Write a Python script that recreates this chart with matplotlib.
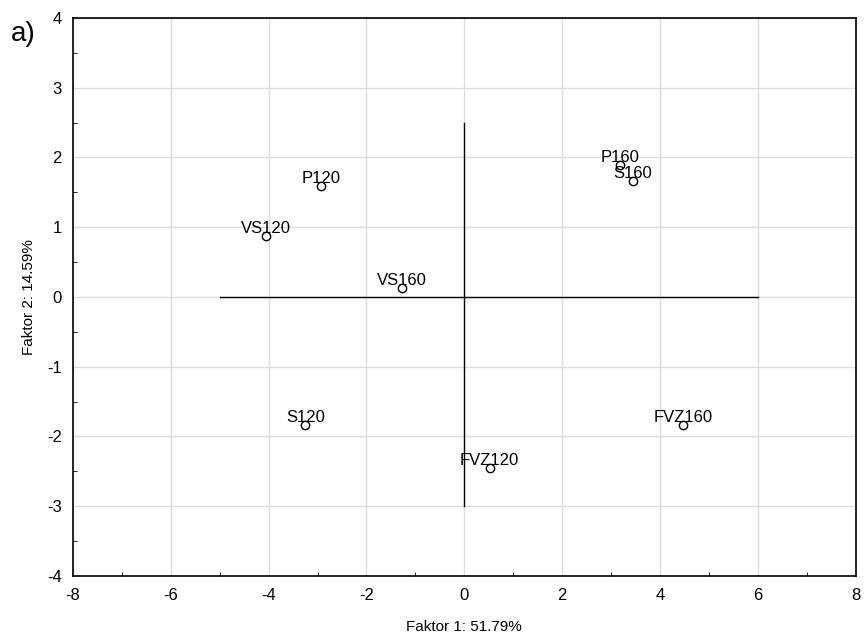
import matplotlib
matplotlib.use("Agg")
import matplotlib.pyplot as plt
from matplotlib.ticker import MultipleLocator

# scores on the first two factors
labels = ['P120', 'VS120', 'VS160', 'S120', 'FVZ120', 'FVZ160', 'P160', 'S160']
f1 = [-2.92, -4.06, -1.27, -3.25, 0.52, 4.48, 3.18, 3.44]
f2 = [1.59, 0.88, 0.13, -1.84, -2.45, -1.83, 1.89, 1.66]

plt.rcParams['font.family'] = ['Liberation Sans', 'DejaVu Sans']
plt.rcParams['axes.unicode_minus'] = False

fig = plt.figure(figsize=(8.67, 6.37), dpi=100)
ax = fig.add_axes([0.0842, 0.0958, 0.9026, 0.876])

ax.set_xlim(-8, 8)
ax.set_ylim(-4, 4)
ax.xaxis.set_major_locator(MultipleLocator(2))
ax.xaxis.set_minor_locator(MultipleLocator(1))
ax.yaxis.set_major_locator(MultipleLocator(1))
ax.yaxis.set_minor_locator(MultipleLocator(0.5))
ax.grid(True, which='major', color='#dcdcdc', linewidth=1)
ax.set_axisbelow(True)
ax.tick_params(which='major', length=0, labelsize=12)
ax.tick_params(axis='x', which='major', pad=9)
ax.tick_params(axis='y', which='major', pad=8)
ax.tick_params(which='minor', direction='in', length=3, color='black')
for s in ax.spines.values():
    s.set_linewidth(1.2)

# axis cross
ax.plot([-5, 6], [0, 0], color='black', linewidth=1)
ax.plot([0, 0], [-3, 2.5], color='black', linewidth=1)

ax.plot(f1, f2, 'o', markerfacecolor='white', markeredgecolor='black',
        markersize=6, markeredgewidth=1, zorder=3)
for lab, x, y in zip(labels, f1, f2):
    ax.annotate(lab, (x, y), xytext=(0, 0), textcoords='offset points',
                ha='center', va='bottom', fontsize=12, zorder=4)

ax.set_xlabel('Faktor 1: 51.79%', fontsize=11, labelpad=12)
ax.set_ylabel('Faktor 2: 14.59%', fontsize=11, labelpad=8)

fig.text(0.012, 0.935, 'a)', fontsize=20)

fig.savefig('out.png', dpi=100)
